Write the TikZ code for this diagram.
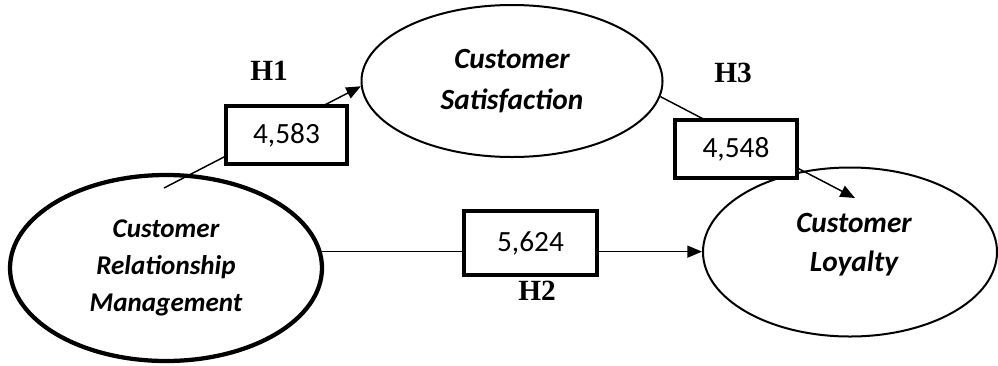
\documentclass[tikz,border=0pt]{standalone}
\usepackage{fontspec}
\setmainfont{Liberation Serif}
\newfontfamily\calibri{Carlito}
\usetikzlibrary{shapes.geometric,arrows.meta}
\begin{document}
\begin{tikzpicture}[x=0.75pt,y=-0.75pt,
  construct/.style={ellipse,draw,line width=1.5pt,inner sep=0pt,align=center,
    font=\calibri\bfseries\itshape\fontsize{22}{30.5}\selectfont},
  label text/.style={align=center,inner sep=0pt,
    font=\calibri\bfseries\itshape\fontsize{22}{29.5}\selectfont},
  valbox/.style={draw,line width=3pt,fill=white,inner sep=0pt,
    font=\calibri\fontsize{22}{24}\selectfont},
  hyp/.style={font=\bfseries\fontsize{22}{24}\selectfont},
  path/.style={line width=1.1pt,-{Triangle[length=11pt,width=9pt]}}]
\useasboundingbox (0,0) rectangle (998,365);
\node[construct,line width=3.2pt,minimum width=234pt,minimum height=139.5pt,
  font=\calibri\bfseries\itshape\fontsize{20.3}{28}\selectfont] (crm) at (166,268)
  {Customer\\Relationship\\Management};
\node[construct,minimum width=225.75pt,minimum height=114pt] (cs) at (512,81) {Customer\\Satisfaction};
\node[construct,minimum width=220.5pt,minimum height=126.75pt] (cl) at (850,252) {};
\node[label text] (cltext) at (854,245) {Customer\\Loyalty};
\coordinate (h1s) at (164,188);
\coordinate (h3e) at (855,198);
\draw[path] (h1s) -- (cs.182);
\draw[path] (cs.-6) -- (h3e);
\draw[path] (crm.6) -- (crm.6 -| cl.west);
\node[valbox,minimum width=90.75pt,minimum height=43.5pt] (b1) at (286.5,135) {4,583};
\node[valbox,minimum width=99.75pt,minimum height=48pt] (b2) at (530.5,243) {5,624};
\node[valbox,minimum width=91.5pt,minimum height=43.5pt] (b3) at (736,149) {4,548};
\node[hyp] (h1) at (269,71) {H1};
\node[hyp] (h2) at (537,291) {H2};
\node[hyp] (h3) at (733,73) {H3};
\end{tikzpicture}
\end{document}
